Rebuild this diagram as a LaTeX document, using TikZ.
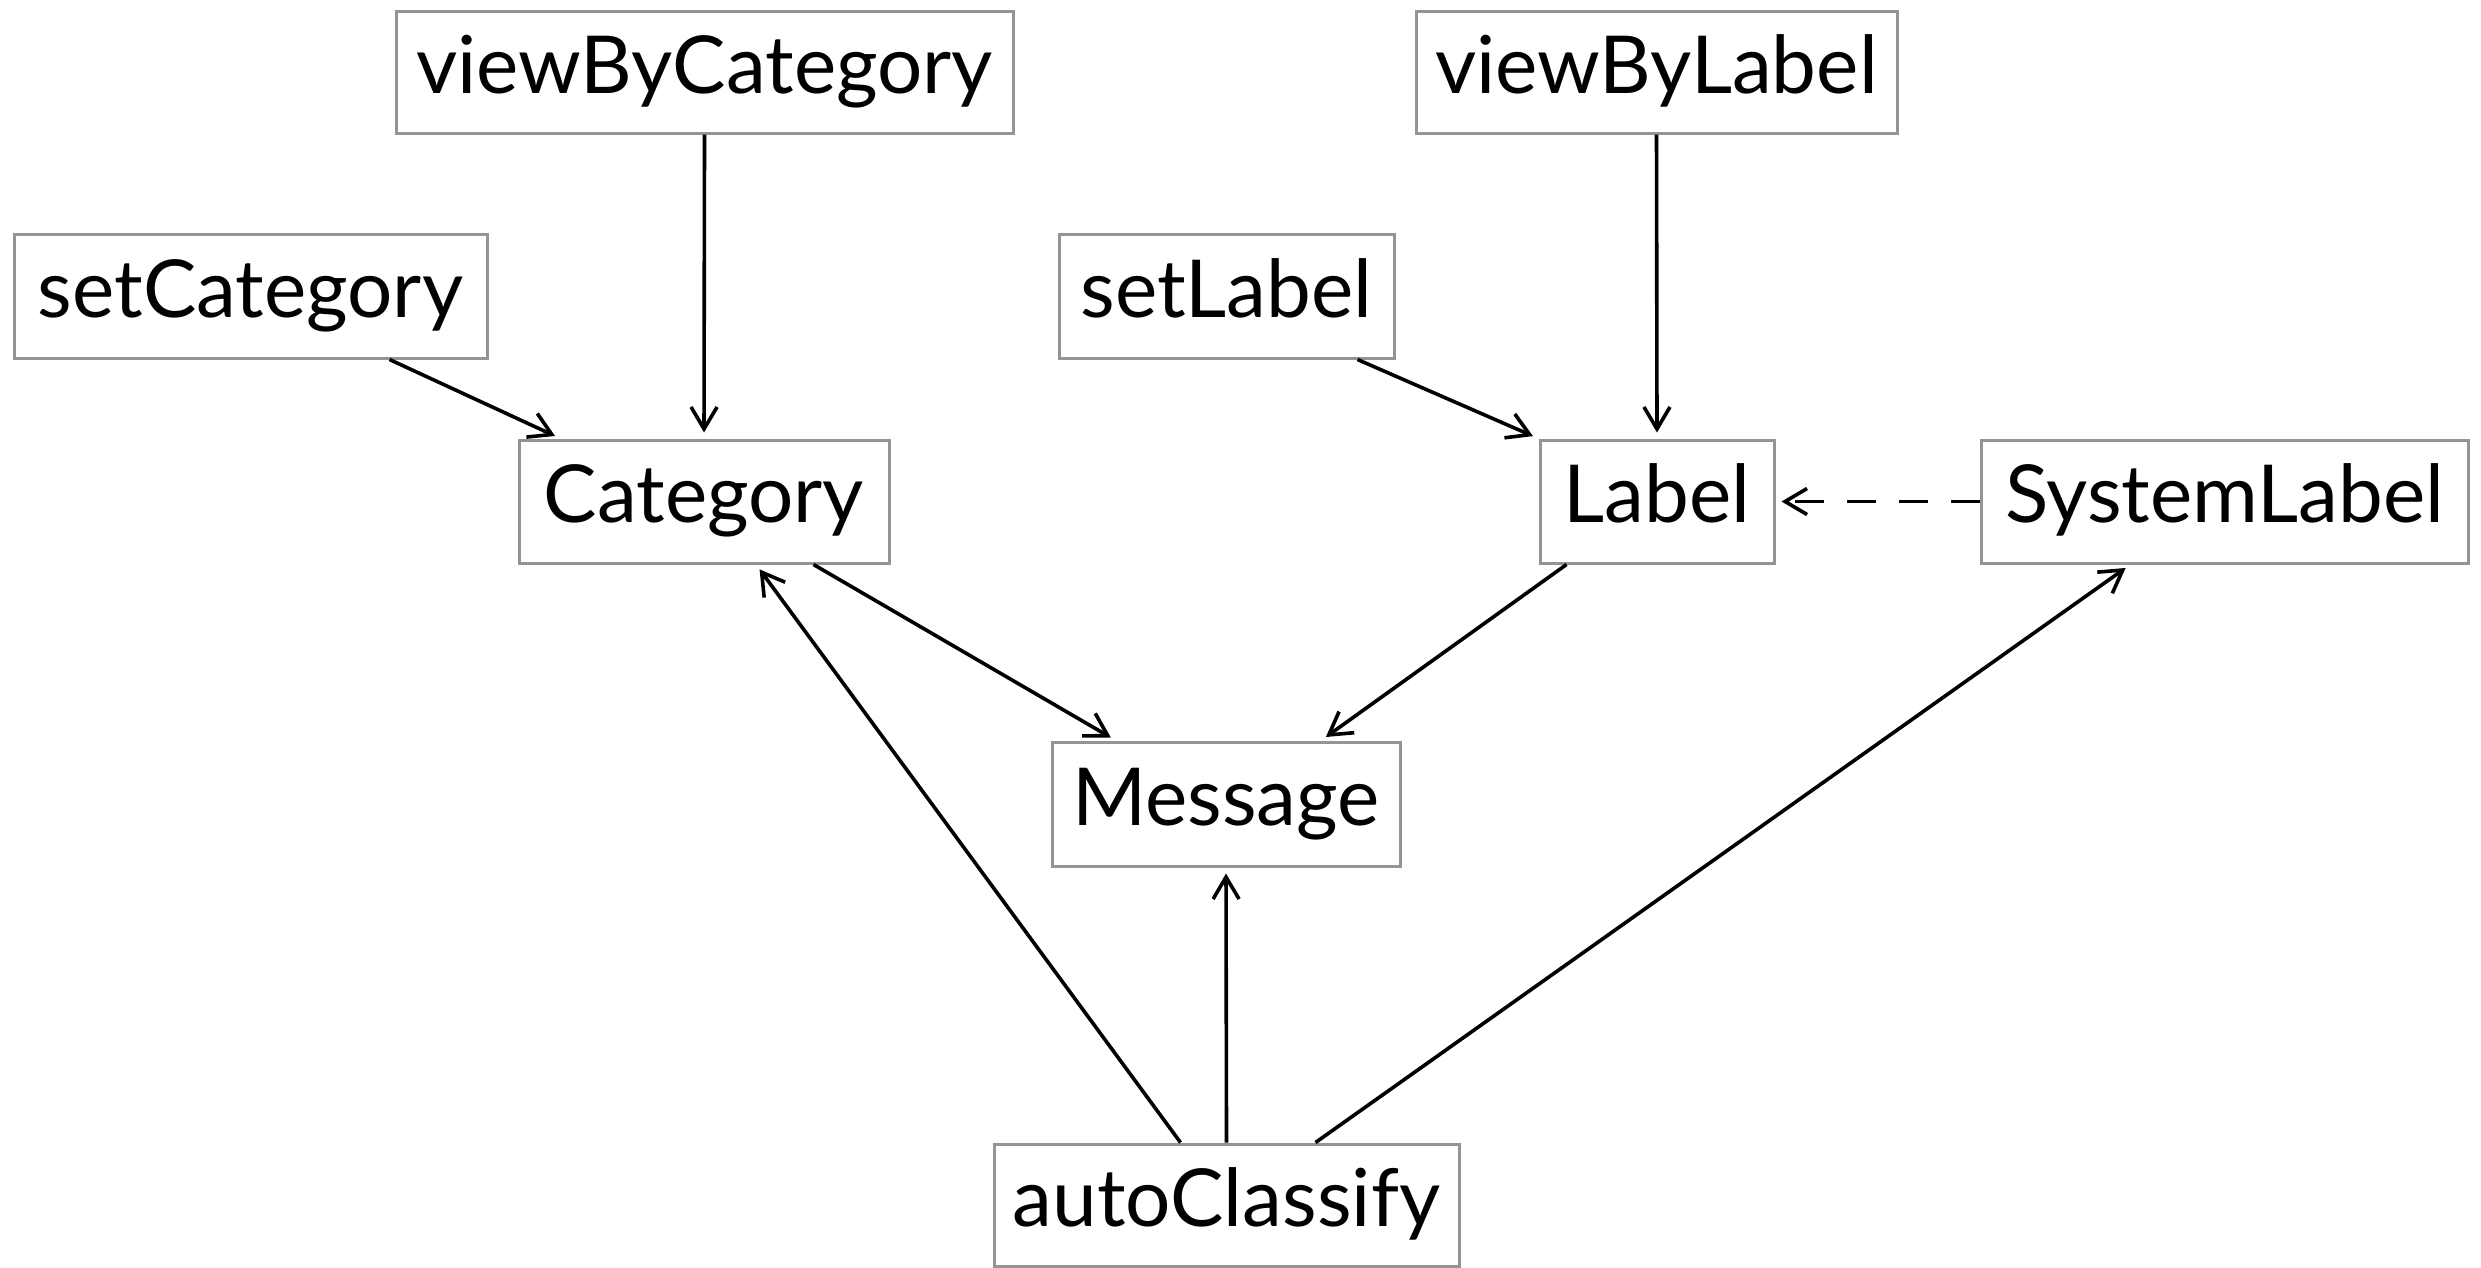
\documentclass[tikz,border=0pt]{standalone}
\usepackage{fontspec}
\setmainfont{Lato}
\usetikzlibrary{arrows.meta}
\begin{document}
\begin{tikzpicture}[x=1pt,y=-1pt,
  box/.style={draw=black!42, line width=3pt, rectangle, inner sep=0pt,
    font=\fontsize{80}{90}\selectfont, text height=58pt, text depth=16pt},
  arr/.style={line width=3.6pt, -{Straight Barb[length=22pt,width=26pt]}, shorten >=6pt},
  dep/.style={arr, dash pattern=on 29pt off 23pt}]
\useasboundingbox (0,0) rectangle (2481,1267);
\node[box, minimum width=617pt, minimum height=122pt] (vbc) at (704.5,72) {viewByCategory};
\node[box, minimum width=481pt, minimum height=122pt] (vbl) at (1656.5,72) {viewByLabel};
\node[box, minimum width=473pt, minimum height=124pt] (sc) at (250.5,296) {setCategory};
\node[box, minimum width=335pt, minimum height=124pt] (sl) at (1226.5,296) {setLabel};
\node[box, minimum width=370pt, minimum height=123pt] (cat) at (704,501.5) {Category};
\node[box, minimum width=234pt, minimum height=123pt] (lab) at (1657,501.5) {Label};
\node[box, minimum width=487pt, minimum height=123pt] (sys) at (2224.5,501.5) {SystemLabel};
\node[box, minimum width=348pt, minimum height=124pt] (msg) at (1226,804) {Message};
\node[box, minimum width=465pt, minimum height=122pt] (ac) at (1226.5,1205) {autoClassify};
\draw[arr] (vbc.south) -- (cat.north);
\draw[arr] (vbl.south) -- (lab.north);
\draw[arr] ([xshift=-99pt]sc.south east) -- ([xshift=43pt]cat.north west);
\draw[arr] ([xshift=-38pt]sl.south east) -- ([xshift=0pt]lab.north west);
\draw[dep] (sys.west) -- (lab.east);
\draw[arr] ([xshift=-77pt]cat.south east) -- ([xshift=-110pt]msg.north);
\draw[arr] ([xshift=28pt]lab.south west) -- ([xshift=95pt]msg.north);
\draw[arr] ([xshift=-46pt]ac.north) -- ([xshift=52pt]cat.south);
\draw[arr] (ac.north) -- (msg.south);
\draw[arr] ([xshift=89pt]ac.north) -- ([xshift=-94pt]sys.south);
\end{tikzpicture}
\end{document}
